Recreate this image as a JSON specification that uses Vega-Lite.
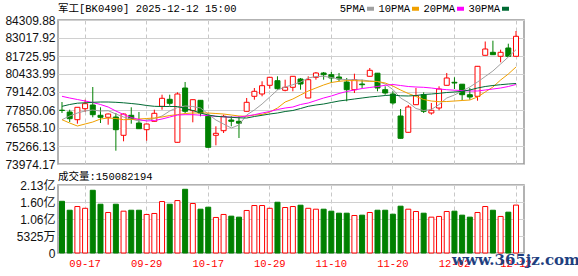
{
"$schema": "https://vega.github.io/schema/vega-lite/v6.json",
"background": "#ffffff",
"padding": {"left": 4, "top": 2, "right": 0, "bottom": 0},
"config": {
  "view": {"stroke": "#999999", "strokeWidth": 1.5},
  "axis": {"labelFont": "Liberation Sans, Noto Sans CJK SC", "labelFontSize": 12, "labelColor": "#111111", "title": null},
  "axisY": {"labelOverlap": false},
  "axisQuantitative": {"labelOverlap": false}
},
"bounds": "flush",
"spacing": 21,
"data": {"values": [
{"d":"09-12","o":77835.7,"h":78424.2,"l":77634.7,"c":77814.2,"v":162000000,"5PMA":77153.8,"10PMA":77153.8,"20PMA":78833.4,"30PMA":78115.6},
{"d":"09-15","o":77706.5,"h":77871.6,"l":76988.7,"c":77225.6,"v":134000000,"5PMA":77419.4,"10PMA":76916.9,"20PMA":78711.4,"30PMA":78244.8},
{"d":"09-16","o":77153.8,"h":78043.8,"l":76866.8,"c":78043.8,"v":145600000,"5PMA":77634.7,"10PMA":76701.6,"20PMA":78603.7,"30PMA":78338.2},
{"d":"09-17","o":77943.3,"h":78589.3,"l":77706.5,"c":78302.2,"v":140000000,"5PMA":77778.3,"10PMA":76845.2,"20PMA":78496.0,"30PMA":78366.9},
{"d":"09-18","o":78208.9,"h":79500.9,"l":77326.0,"c":77512.7,"v":196500000,"5PMA":77850.1,"10PMA":76988.7,"20PMA":78388.4,"30PMA":78402.7},
{"d":"09-19","o":77469.6,"h":78043.8,"l":76916.9,"c":77326.0,"v":152800000,"5PMA":77778.3,"10PMA":77204.1,"20PMA":78244.8,"30PMA":78424.3},
{"d":"09-22","o":77326.0,"h":77598.8,"l":76795.0,"c":77562.9,"v":126900000,"5PMA":77799.7,"10PMA":77275.8,"20PMA":78065.4,"30PMA":78424.3},
{"d":"09-23","o":77347.6,"h":77634.7,"l":74928.8,"c":76436.1,"v":152800000,"5PMA":77562.9,"10PMA":77240.0,"20PMA":77778.3,"30PMA":78402.7},
{"d":"09-24","o":76034.1,"h":77598.8,"l":75603.5,"c":77562.9,"v":131000000,"5PMA":77347.6,"10PMA":77153.8,"20PMA":77527.1,"30PMA":78366.9},
{"d":"09-25","o":77469.6,"h":78043.8,"l":76866.8,"c":77204.1,"v":134000000,"5PMA":77204.1,"10PMA":77168.2,"20PMA":77311.7,"30PMA":78316.6},
{"d":"09-26","o":76916.9,"h":77706.5,"l":76486.3,"c":76507.9,"v":134000000,"5PMA":77060.6,"10PMA":77204.1,"20PMA":77168.2,"30PMA":78259.2},
{"d":"09-29","o":76436.1,"h":76881.1,"l":75646.5,"c":76845.2,"v":120700000,"5PMA":77132.3,"10PMA":77240.0,"20PMA":77060.6,"30PMA":78173.1},
{"d":"09-30","o":77039.0,"h":77871.6,"l":77024.6,"c":77613.2,"v":123800000,"5PMA":77240.0,"10PMA":77275.8,"20PMA":77096.4,"30PMA":78115.6},
{"d":"10-09","o":78115.6,"h":78948.2,"l":77871.6,"c":78689.8,"v":161200000,"5PMA":77419.4,"10PMA":77347.6,"20PMA":77204.1,"30PMA":78101.3},
{"d":"10-10","o":78618.0,"h":78948.2,"l":78158.7,"c":78330.9,"v":152800000,"5PMA":77778.3,"10PMA":77455.3,"20PMA":77347.6,"30PMA":78101.3},
{"d":"10-13","o":75531.7,"h":79120.5,"l":75517.3,"c":78998.5,"v":164300000,"5PMA":78029.5,"10PMA":77512.7,"20PMA":77491.2,"30PMA":78101.3},
{"d":"10-14","o":79429.1,"h":79859.8,"l":77634.7,"c":77756.7,"v":199600000,"5PMA":78137.2,"10PMA":77598.8,"20PMA":77512.7,"30PMA":77957.7},
{"d":"10-15","o":77799.7,"h":78603.7,"l":76967.2,"c":78589.3,"v":155000000,"5PMA":78101.3,"10PMA":77634.7,"20PMA":77512.7,"30PMA":77814.2},
{"d":"10-16","o":78546.2,"h":78567.8,"l":77397.8,"c":77634.7,"v":137200000,"5PMA":77993.6,"10PMA":77634.7,"20PMA":77476.8,"30PMA":77634.7},
{"d":"10-17","o":77397.8,"h":77512.7,"l":75158.4,"c":75172.8,"v":143500000,"5PMA":77562.9,"10PMA":77634.7,"20PMA":77455.3,"30PMA":77491.2},
{"d":"10-20","o":76034.1,"h":76680.1,"l":75316.3,"c":76177.6,"v":111300000,"5PMA":77132.3,"10PMA":77598.8,"20PMA":77397.8,"30PMA":77397.8},
{"d":"10-21","o":76364.3,"h":77512.7,"l":76199.2,"c":77397.8,"v":120700000,"5PMA":76845.2,"10PMA":77562.9,"20PMA":77362.0,"30PMA":77362.0},
{"d":"10-22","o":77132.3,"h":77397.8,"l":76680.1,"c":77039.0,"v":115400000,"5PMA":76558.1,"10PMA":77491.2,"20PMA":77333.2,"30PMA":77326.0},
{"d":"10-23","o":77039.0,"h":77397.8,"l":75840.3,"c":76902.6,"v":112300000,"5PMA":76773.4,"10PMA":77419.4,"20PMA":77347.6,"30PMA":77290.2},
{"d":"10-24","o":77756.7,"h":78711.4,"l":77742.4,"c":78402.7,"v":133200000,"5PMA":77491.2,"10PMA":77397.8,"20PMA":77419.4,"30PMA":77275.8},
{"d":"10-27","o":78833.4,"h":79429.1,"l":78589.3,"c":79192.2,"v":148700000,"5PMA":77850.1,"10PMA":77491.2,"20PMA":77512.7,"30PMA":77383.4},
{"d":"10-28","o":78998.5,"h":79910.1,"l":78833.4,"c":79594.2,"v":148700000,"5PMA":78280.7,"10PMA":77527.1,"20PMA":77634.7,"30PMA":77469.6},
{"d":"10-29","o":79623.0,"h":80218.6,"l":79378.9,"c":80197.1,"v":140000000,"5PMA":78783.1,"10PMA":77706.5,"20PMA":77742.4,"30PMA":77562.9},
{"d":"10-30","o":79953.1,"h":80268.8,"l":79307.1,"c":79378.9,"v":159000000,"5PMA":79285.6,"10PMA":77993.6,"20PMA":77885.9,"30PMA":77634.7},
{"d":"10-31","o":79264.1,"h":80024.8,"l":79192.2,"c":79479.4,"v":142500000,"5PMA":79500.9,"10PMA":78424.3,"20PMA":77993.6,"30PMA":77742.4},
{"d":"11-03","o":79479.4,"h":80290.4,"l":79192.2,"c":80268.8,"v":145600000,"5PMA":79666.0,"10PMA":78639.6,"20PMA":78065.4,"30PMA":77814.2},
{"d":"11-04","o":80075.1,"h":80146.9,"l":79307.1,"c":79716.2,"v":149700000,"5PMA":79859.8,"10PMA":78926.7,"20PMA":78244.8,"30PMA":77957.7},
{"d":"11-05","o":78711.4,"h":80268.8,"l":78697.0,"c":80024.8,"v":140000000,"5PMA":80146.9,"10PMA":79213.8,"20PMA":78352.5,"30PMA":78115.6},
{"d":"11-06","o":80197.1,"h":80577.6,"l":80024.8,"c":80505.8,"v":137200000,"5PMA":80254.5,"10PMA":79429.1,"20PMA":78531.9,"30PMA":78208.9},
{"d":"11-07","o":80505.8,"h":80577.6,"l":80024.8,"c":80383.8,"v":137200000,"5PMA":80268.8,"10PMA":79644.5,"20PMA":78711.4,"30PMA":78280.7},
{"d":"11-10","o":80383.8,"h":80577.6,"l":79788.0,"c":80146.9,"v":131000000,"5PMA":80182.8,"10PMA":79823.9,"20PMA":78855.0,"30PMA":78388.4},
{"d":"11-11","o":80218.6,"h":80505.8,"l":79910.1,"c":80075.1,"v":124700000,"5PMA":80075.1,"10PMA":79910.1,"20PMA":79034.4,"30PMA":78496.0},
{"d":"11-12","o":79859.8,"h":80146.9,"l":78474.5,"c":79307.1,"v":124700000,"5PMA":80024.8,"10PMA":79960.3,"20PMA":79177.8,"30PMA":78567.8},
{"d":"11-13","o":79307.1,"h":80455.6,"l":79070.3,"c":80024.8,"v":117500000,"5PMA":80024.8,"10PMA":79960.3,"20PMA":79285.6,"30PMA":78639.6},
{"d":"11-14","o":79716.2,"h":80024.8,"l":79429.1,"c":79666.0,"v":118500000,"5PMA":80003.3,"10PMA":79931.5,"20PMA":79393.2,"30PMA":78711.4},
{"d":"11-17","o":80268.8,"h":80864.7,"l":80254.5,"c":80699.6,"v":126900000,"5PMA":79931.5,"10PMA":79910.1,"20PMA":79464.9,"30PMA":78783.1},
{"d":"11-18","o":80491.4,"h":80505.8,"l":79192.2,"c":79429.1,"v":134000000,"5PMA":79895.7,"10PMA":79895.7,"20PMA":79536.7,"30PMA":78833.4},
{"d":"11-19","o":79307.1,"h":79551.2,"l":78948.2,"c":79070.3,"v":134000000,"5PMA":79716.2,"10PMA":79788.0,"20PMA":79623.0,"30PMA":78890.8},
{"d":"11-20","o":78998.5,"h":79192.2,"l":78230.4,"c":78352.5,"v":121600000,"5PMA":79321.4,"10PMA":79572.7,"20PMA":79680.4,"30PMA":78926.7},
{"d":"11-21","o":77419.4,"h":77921.8,"l":75804.4,"c":75818.8,"v":146600000,"5PMA":78711.4,"10PMA":79285.6,"20PMA":79608.6,"30PMA":78869.2},
{"d":"11-24","o":76249.4,"h":78208.9,"l":76235.0,"c":78065.4,"v":137200000,"5PMA":78388.4,"10PMA":79034.4,"20PMA":79536.7,"30PMA":78855.0},
{"d":"11-25","o":78230.4,"h":79429.1,"l":78216.1,"c":78876.4,"v":130000000,"5PMA":77957.7,"10PMA":78819.1,"20PMA":79500.9,"30PMA":78890.8},
{"d":"11-26","o":78948.2,"h":79120.5,"l":77634.7,"c":77756.7,"v":124700000,"5PMA":77814.2,"10PMA":78603.7,"20PMA":79479.4,"30PMA":78962.6},
{"d":"11-27","o":77634.7,"h":78352.5,"l":77512.7,"c":77828.5,"v":112300000,"5PMA":77885.9,"10PMA":78496.0,"20PMA":79429.1,"30PMA":78998.5},
{"d":"11-28","o":77993.6,"h":79551.2,"l":77828.5,"c":79357.3,"v":114500000,"5PMA":78244.8,"10PMA":78445.8,"20PMA":79357.3,"30PMA":79048.7},
{"d":"12-01","o":79623.0,"h":80505.8,"l":79608.6,"c":80146.9,"v":130000000,"5PMA":78711.4,"10PMA":78460.1,"20PMA":79307.1,"30PMA":79106.1},
{"d":"12-02","o":79838.3,"h":80197.1,"l":79357.3,"c":79788.0,"v":131000000,"5PMA":78926.7,"10PMA":78496.0,"20PMA":79271.3,"30PMA":79142.0},
{"d":"12-03","o":79701.9,"h":79716.2,"l":78546.2,"c":78948.2,"v":118500000,"5PMA":79213.8,"10PMA":78531.9,"20PMA":79249.6,"30PMA":79192.2},
{"d":"12-04","o":78948.2,"h":79429.1,"l":78589.3,"c":78783.1,"v":112300000,"5PMA":79500.9,"10PMA":78567.8,"20PMA":79213.8,"30PMA":79285.6},
{"d":"12-05","o":78833.4,"h":81008.2,"l":78517.6,"c":80986.7,"v":126900000,"5PMA":79859.8,"10PMA":78783.1,"20PMA":79213.8,"30PMA":79429.1},
{"d":"12-08","o":81776.2,"h":82766.6,"l":81761.8,"c":82228.3,"v":145600000,"5PMA":80254.5,"10PMA":79142.0,"20PMA":79285.6,"30PMA":79536.7},
{"d":"12-09","o":81991.6,"h":82824.1,"l":81804.9,"c":81819.3,"v":134000000,"5PMA":80649.4,"10PMA":79500.9,"20PMA":79357.3,"30PMA":79608.6},
{"d":"12-10","o":81704.5,"h":82178.1,"l":81273.8,"c":81991.6,"v":114500000,"5PMA":81151.8,"10PMA":80003.3,"20PMA":79429.1,"30PMA":79666.0},
{"d":"12-11","o":82300.2,"h":82608.8,"l":81690.1,"c":81704.5,"v":127900000,"5PMA":81654.2,"10PMA":80433.9,"20PMA":79536.7,"30PMA":79716.2},
{"d":"12-12","o":81704.5,"h":83520.3,"l":81690.1,"c":83140.0,"v":150082194,"5PMA":82178.1,"10PMA":80936.4,"20PMA":79680.4,"30PMA":79752.1}
]},
"title": {"text": "www.365jz.com", "orient": "bottom", "anchor": "end", "offset": -16, "dx": 48, "font": "DejaVu Serif", "fontSize": 15, "fontWeight": "bold", "color": "#1f3f80"},
"vconcat": [
  {
    "width": 466, "height": 144,
    "title": {"text": "军工[BK0490] 2025-12-12 15:00", "anchor": "start", "frame": "group", "offset": 0, "font": "Liberation Mono, Noto Sans CJK SC", "fontSize": 10.5, "fontWeight": "normal", "color": "#000000"},
    "encoding": {
      "x": {"field": "d", "type": "ordinal", "scale": {"paddingInner": 0.35, "paddingOuter": 0.4545, "align": 0.214},
            "axis": {"values": ["09-17","09-29","10-17","10-29","11-10","11-20","12-02","12-12"], "labels": false, "ticks": false, "domain": false, "grid": true, "gridDash": [4,3], "gridColor": "#c8c8c8"}},
      "y": {"type": "quantitative", "scale": {"domain": [73974.17, 84309.88], "nice": false, "zero": false},
            "axis": {"values": [73974.17,75266.13,76558.10,77850.06,79142.03,80433.99,81725.95,83017.92,84309.88], "format": ".2f", "labelOverlap": false, "domain": false, "ticks": false, "labelPadding": 3, "grid": true, "gridColor": "#d0d0d0"}}
    },
    "layer": [
      {"mark": {"type": "rule", "strokeWidth": 1},
       "encoding": {
         "y": {"field": "l"},
         "y2": {"field": "h"},
         "color": {"condition": {"test": "datum.c >= datum.o", "value": "#ff0000"}, "value": "#008000"}
       }},
      {"mark": {"type": "bar", "strokeWidth": 1},
       "encoding": {
         "y": {"field": "o"},
         "y2": {"field": "c"},
         "fill": {"condition": {"test": "datum.c >= datum.o", "value": "#ffffff"}, "value": "#008000"},
         "stroke": {"condition": {"test": "datum.c >= datum.o", "value": "#ff0000"}, "value": "#008000"}
       }},
      {"transform": [{"fold": ["5PMA","10PMA","20PMA","30PMA"], "as": ["k","val"]}],
       "mark": {"type": "line", "strokeWidth": 1},
       "encoding": {
         "y": {"field": "val"},
         "color": {"field": "k", "type": "nominal",
                   "scale": {"domain": ["5PMA","10PMA","20PMA","30PMA"], "range": ["#a0a0a0","#f0a000","#ff00ff","#006a33"]},
                   "legend": {"orient": "none", "legendX": 307, "legendY": -17, "direction": "horizontal", "title": null,
                              "symbolType": "stroke", "symbolStrokeWidth": 4, "symbolSize": 49,
                              "labelAlign": "right", "labelOffset": -11, "columnPadding": -4,
                              "labelFont": "Liberation Mono", "labelFontSize": 10.5, "labelColor": "#000000"}}
       }}
    ]
  },
  {
    "width": 466, "height": 68,
    "title": {"text": "成交量:150082194", "anchor": "start", "frame": "group", "offset": -3, "font": "Liberation Mono, Noto Sans CJK SC", "fontSize": 10.5, "fontWeight": "normal", "color": "#000000"},
    "mark": {"type": "bar", "strokeWidth": 1},
    "encoding": {
      "x": {"field": "d", "type": "ordinal", "scale": {"paddingInner": 0.35, "paddingOuter": 0.4545, "align": 0.214},
            "axis": {"values": ["09-17","09-29","10-17","10-29","11-10","11-20","12-02","12-12"], "labelAngle": 0, "ticks": false, "domain": false, "grid": true, "gridDash": [4,3], "gridColor": "#c8c8c8",
                     "labelColor": "#ff0000", "labelFont": "Liberation Mono", "labelFontSize": 10.5, "labelPadding": 5}},
      "y": {"field": "v", "type": "quantitative", "scale": {"domain": [0, 213000000], "nice": false},
            "axis": {"values": [0, 53250000, 106500000, 159750000, 213000000], "labelOverlap": false, "labelExpr": "datum.value == 0 ? '0' : datum.value < 100000000 ? format(datum.value/10000, 'd') + '万' : format(datum.value/100000000, '.2f') + '亿'",
                     "domain": false, "ticks": false, "labelPadding": 3, "grid": true, "gridColor": "#d0d0d0"}},
      "fill": {"condition": {"test": "datum.c >= datum.o", "value": "#ffffff"}, "value": "#008000"},
      "stroke": {"condition": {"test": "datum.c >= datum.o", "value": "#ff0000"}, "value": "#008000"}
    }
  }
]
}
